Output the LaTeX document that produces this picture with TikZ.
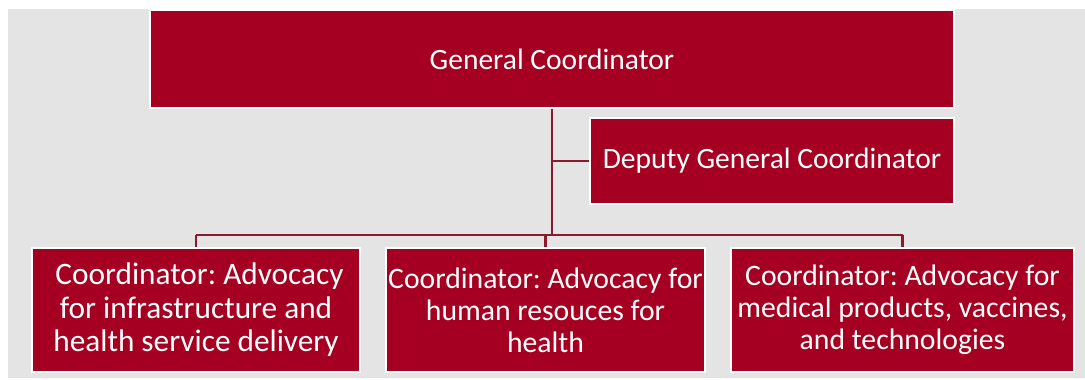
\documentclass[tikz,border=0pt]{standalone}
\usepackage{fontspec}
\setmainfont{Carlito}
\usepackage{xcolor}
\usetikzlibrary{positioning, calc}
\definecolor{boxred}{HTML}{A50021}
\definecolor{linered}{HTML}{8C1A2E}
\definecolor{panelgray}{HTML}{E4E4E4}
\tikzset{
    orgbox/.style={draw=white, line width=1.2pt, fill=boxred, text=white, align=center, inner sep=0pt, font=\frenchspacing\fontsize{16.8}{19}\selectfont},
    subbox/.style={orgbox, minimum height=2.48cm, font=\frenchspacing\fontsize{16.9}{18.3}\selectfont},
    orgline/.style={draw=linered, line width=1.6pt}
}
\begin{document}
\begin{tikzpicture}[x=0.02cm, y=-0.02cm]
    \useasboundingbox (0,0) rectangle (1085,379);
    \fill[panelgray] (8,9) rectangle (1085,378);
    \node[orgbox, minimum width=16.08cm, minimum height=1.96cm] (gen) at (552,59) {General Coordinator};
    \node[orgbox, minimum width=7.28cm, minimum height=1.72cm] (dep) at (772,161) {Deputy General Coordinator};
    \node[subbox, minimum width=6.56cm, font=\frenchspacing\fontsize{17.8}{19.1}\selectfont] (infra) at (196,310) {\hspace*{4pt}Coordinator: Advocacy\\for infrastructure and\\health service delivery};
    \node[subbox, minimum width=6.38cm] (hr) at (545.5,310) {Coordinator: Advocacy for\\human resouces for\\health};
    \node[subbox, minimum width=6.86cm] (med) at (902.5,310) {Coordinator: Advocacy for\\medical products, vaccines,\\and technologies};
    % connectors
    \coordinate (bus) at (552,235);
    \draw[orgline] (gen.south) -- (bus);
    \draw[orgline] (gen.south |- dep.west) -- (dep.west);
    \draw[orgline] (infra.north |- bus) -- (med.north |- bus);
    \draw[orgline] (infra.north |- bus) -- (infra.north);
    \draw[orgline] (hr.north |- bus) -- (hr.north);
    \draw[orgline] (med.north |- bus) -- (med.north);
\end{tikzpicture}
\end{document}
